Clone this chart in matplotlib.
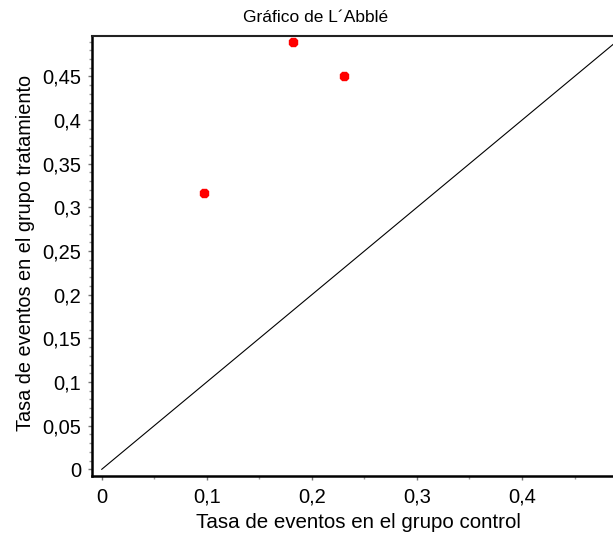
import matplotlib
matplotlib.use("Agg")
import matplotlib.pyplot as plt
from matplotlib.ticker import FixedLocator, MultipleLocator

control_rate = [0.097, 0.182, 0.231]
treatment_rate = [0.317, 0.489, 0.450]
ref_line = [0.0, 0.5]

x_ticks = [0, 0.1, 0.2, 0.3, 0.4]
x_tick_labels = ["0", "0,1", "0,2", "0,3", "0,4"]
y_ticks = [0, 0.05, 0.1, 0.15, 0.2, 0.25, 0.3, 0.35, 0.4, 0.45]
y_tick_labels = ["0", "0,05", "0,1", "0,15", "0,2", "0,25", "0,3", "0,35", "0,4", "0,45"]

plt.rcParams['font.family'] = ['Liberation Sans', 'DejaVu Sans']

W, H = 613, 540
fig = plt.figure(figsize=(W / 100, H / 100), dpi=100)
left, right, bottom, top = 92.3, 613, 476, 36
ax = fig.add_axes([left / W, 1 - bottom / H, (right - left) / W, (bottom - top) / H])

ax.plot(ref_line, ref_line, color='black', lw=0.8)
ax.plot(control_rate, treatment_rate, linestyle='none', marker='8', ms=6.8,
        color='red', mec='red')

ax.set_xlim(-0.009, 0.4866)
ax.set_ylim(-0.0077, 0.4963)

ax.xaxis.set_major_locator(FixedLocator(x_ticks))
ax.set_xticklabels(x_tick_labels)
ax.xaxis.set_minor_locator(MultipleLocator(0.05))
ax.yaxis.set_major_locator(FixedLocator(y_ticks))
ax.set_yticklabels(y_tick_labels)
ax.yaxis.set_minor_locator(MultipleLocator(0.01))

ax.tick_params(which='major', length=3, width=1, color='#777777', labelsize=14.5)
ax.tick_params(axis='x', which='major', pad=5.5)
ax.tick_params(axis='y', which='major', pad=5)
ax.tick_params(which='minor', length=2.2, width=1, color='#999999')

for s in ['left', 'bottom']:
    ax.spines[s].set_linewidth(1.8)
ax.spines['top'].set_linewidth(1.5)
ax.spines['top'].set_color('#222222')
ax.spines['right'].set_visible(False)

fig.text(316 / W, 1 - 17.5 / H, "Gráfico de L´Abblé", ha='center', va='center', fontsize=12.5)
fig.text(358 / W, 1 - 523 / H, "Tasa de eventos en el grupo control", ha='center', va='center', fontsize=14.8)
fig.text(26 / W, 1 - 253 / H, "Tasa de eventos en el grupo tratamiento", ha='center', va='center',
         rotation=90, fontsize=14.3)

fig.savefig("out.png", dpi=100)
